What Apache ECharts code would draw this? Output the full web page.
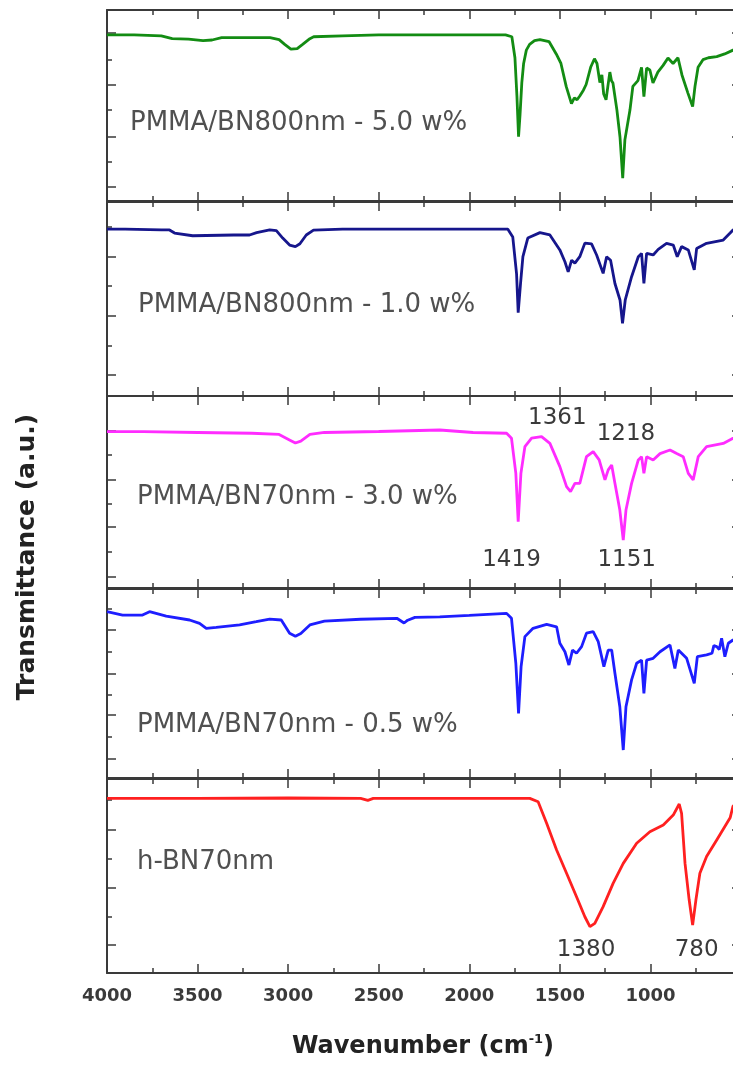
<!DOCTYPE html>
<html>
<head>
<meta charset="utf-8">
<script src="https://cdn.jsdelivr.net/npm/echarts@6/dist/echarts.min.js"></script>
<style>
html, body { margin: 0; padding: 0; background: #fff; overflow: hidden; }
#chartImg { width: 745px; height: 1066px; }
</style>
</head>
<body>
<div id="chartImg"></div>
<script>
// FTIR spectra, [wavenumber, offset transmittance in panel units 0..100]
var pmma800_50 = [[4000,87],[3850,87],[3700,86.5],[3640,85],[3550,84.8],[3470,84],[3420,84.3],[3367,85.5],[3100,85.5],[3050,84.5],[3019,82],[2985,79.5],[2950,79.8],[2920,82],[2880,85],[2859,86],[2700,86.5],[2500,87],[2300,87],[2000,87],[1800,87],[1765,86],[1748,75],[1737,55],[1728,33.7],[1720,45],[1710,62],[1700,72],[1685,79],[1667,82],[1640,84],[1610,84.5],[1560,83.5],[1520,77],[1494,72],[1465,60],[1436,51],[1420,54],[1405,53],[1390,55],[1370,58],[1355,61],[1330,70],[1309,74.5],[1295,72],[1279,62],[1268,66],[1258,56],[1245,53],[1235,60],[1224,67.5],[1215,63],[1207,61.8],[1185,47.6],[1168,33.5],[1153,12],[1141,32],[1113,47.6],[1097,60],[1069,63],[1049,70],[1036,54.6],[1021,69.6],[1003,68.6],[986,61.8],[959,67.5],[930,71],[903,74.9],[875,72],[848,75],[826,66],[793,56.5],[767,49.4],[754,60],[737,70],[710,74],[680,75],[634,75.6],[590,77],[544,79],[500,80]];
var pmma800_10 = [[4000,86],[3900,86],[3700,85.6],[3655,85.6],[3627,84],[3527,82.6],[3300,83],[3213,83],[3174,84.2],[3102,85.6],[3065,85.2],[3030,81.4],[2992,77.8],[2960,77],[2935,78.5],[2900,83],[2860,85.5],[2700,86],[2400,86],[2000,86],[1787,86],[1760,82],[1739,63],[1730,43],[1717,58],[1704,71.8],[1677,81.4],[1610,84.2],[1555,83],[1500,75.3],[1472,69.2],[1454,64],[1435,70],[1417,68.5],[1390,71.8],[1362,78.8],[1325,78.4],[1297,72.7],[1261,63.2],[1242,71.8],[1220,70],[1196,58],[1168,49.5],[1154,37.5],[1139,49.5],[1104,61.5],[1067,71.8],[1049,73.5],[1036,58],[1021,73.5],[985,72.7],[957,75.6],[911,78.7],[874,77.8],[852,71.8],[828,77],[791,75.3],[758,65],[745,76],[690,78.7],[598,80.4],[560,84],[544,85.6],[500,86]];
var pmma70_30 = [[4000,81.4],[3800,81.4],[3500,81],[3200,80.6],[3050,80],[2990,77],[2960,75.5],[2930,76.5],[2880,80],[2800,81],[2500,81.5],[2163,82.3],[1979,81],[1794,80.6],[1767,78],[1743,59.7],[1730,34.5],[1715,59.7],[1693,73.6],[1656,78],[1601,78.8],[1555,75.3],[1500,63.2],[1463,52.8],[1441,50.2],[1417,54.5],[1390,54.5],[1353,68.4],[1316,71],[1283,66.7],[1251,56.3],[1233,61.5],[1214,64],[1196,54.5],[1169,40.6],[1150,25],[1135,40.6],[1104,54.5],[1067,66.7],[1049,68.4],[1036,59.7],[1021,68.4],[985,66.7],[947,70],[892,71.9],[855,70],[819,68.4],[791,59.7],[764,56.3],[736,68.4],[690,73.6],[598,75.3],[544,78],[500,79]];
var pmma70_05 = [[4000,88],[3914,86.2],[3804,86.2],[3765,88],[3673,85.7],[3544,83.6],[3489,81.8],[3452,79.2],[3397,79.7],[3268,81],[3176,82.7],[3102,84.1],[3038,83.6],[2992,76.6],[2960,75],[2930,76.5],[2880,81],[2800,83],[2600,84],[2400,84.5],[2360,82],[2340,83.5],[2300,85],[2163,85.3],[2000,86],[1794,87.1],[1767,84.5],[1743,60.7],[1728,34.2],[1714,58.9],[1693,74.8],[1648,79.2],[1573,81.3],[1518,80],[1500,71.3],[1472,66.8],[1450,59.8],[1430,67.7],[1408,66],[1380,69.5],[1353,76.6],[1316,77.4],[1288,72.1],[1257,58.9],[1233,67.7],[1214,67.7],[1196,55.4],[1169,37.7],[1150,14.8],[1135,37.7],[1104,51.9],[1076,60.7],[1049,62.4],[1036,44.8],[1021,62.4],[985,63.3],[947,66.8],[892,70.4],[865,58],[846,67.7],[800,63.3],[758,50.1],[741,64.2],[690,65.1],[660,66],[650,70],[634,69.5],[620,68],[607,73.9],[589,64.2],[570,71.3],[544,73],[500,74]];
var hbn70 = [[4000,90],[3500,90],[3000,90.2],[2600,90],[2560,89],[2530,90],[2000,90],[1700,90],[1666,90],[1620,88.3],[1573,77.2],[1518,63.4],[1463,51.4],[1408,39.3],[1362,29],[1334,23.9],[1307,25.6],[1261,34.2],[1206,46.2],[1150,56.5],[1076,66.9],[1003,72.8],[929,76.3],[874,81.4],[841,87.1],[828,82.3],[809,56.5],[786,37.6],[767,24.7],[749,37.6],[727,51.4],[690,60],[634,68.6],[560,80],[544,86],[500,90]];

var spectra = [pmma800_50, pmma800_10, pmma70_30, pmma70_05, hbn70];
var names = ['PMMA/BN800nm - 5.0 w%', 'PMMA/BN800nm - 1.0 w%', 'PMMA/BN70nm - 3.0 w%', 'PMMA/BN70nm - 0.5 w%', 'h-BN70nm'];
var colors = ['#138c13', '#16168c', '#ff2cff', '#1e1eff', '#ff2020'];

// peak labels: [text, wavenumber, panel units]
var peaks3 = [['1361', 1514, 88.7], ['1218', 1135, 80], ['1419', 1767, 14.6], ['1151', 1131, 14.6]];
var peaks5 = [['1380', 1355, 11.9], ['780', 745, 11.9]];

// y tick positions per panel (panel units)
var yTicks = [
    [7.3, 20.4, 33.5, 47.6, 60.7, 73.8, 88],
    [11.2, 25.9, 41.2, 56.7, 71.8, 87],
    [5.9, 18.9, 31.9, 44, 56.6, 69.3, 81.9],
    [10.4, 21.9, 33.3, 44.3, 55.4, 66.8, 78.3, 89.4],
    [14.4, 29, 43.7, 59.1, 73.7, 89.2]
];

var xTickLabels = ['4000', '3500', '3000', '2500', '2000', '1500', '1000'];

var panelTop = [10, 202, 396, 589, 779];
var panelH = [191, 194, 192, 189, 194];
var labelPos = [[130, 123], [138, 305], [137, 497], [137, 725], [137, 862]];

var frameColor = '#3a3a3a';
var grids = [], xAxes = [], yAxes = [], series = [], graphics = [];

for (var i = 0; i < 5; i++) {
    grids.push({ left: 107, width: 634, top: panelTop[i], height: panelH[i] });
    var isLast = (i === 4);
    ['bottom', 'top'].forEach(function (pos) {
        xAxes.push({
            type: 'value', gridIndex: i, position: pos,
            min: 500, max: 4000, interval: 500, inverse: true,
            axisLine: { show: true, onZero: false, lineStyle: { color: frameColor, width: 2 } },
            axisTick: { show: true, inside: true, length: 9, lineStyle: { color: frameColor, width: 1.5 } },
            minorTick: { show: true, splitNumber: 2, length: 5, lineStyle: { color: frameColor, width: 1.5 } },
            splitLine: { show: false },
            axisLabel: {
                show: isLast && pos === 'bottom', margin: 14,
                fontFamily: 'DejaVu Sans', fontWeight: 'bold', fontSize: 18, color: '#3a3a3a',
                formatter: function (v) { return xTickLabels.indexOf(String(v)) >= 0 ? String(v) : ''; }
            }
        });
    });
    var majors = yTicks[i].filter(function (v, k) { return k % 2 === 0; });
    var minors = yTicks[i].filter(function (v, k) { return k % 2 === 1; });
    ['left', 'right'].forEach(function (pos) {
        [[majors, 9, true], [minors, 5, false]].forEach(function (t) {
            yAxes.push({
                type: 'value', gridIndex: i, position: pos, min: 0, max: 100,
                axisLine: { show: t[2], onZero: false, lineStyle: { color: frameColor, width: 2 } },
                axisTick: { show: true, inside: true, length: t[1], customValues: t[0],
                    lineStyle: { color: frameColor, width: 1.5 } },
                axisLabel: { show: false },
                splitLine: { show: false }
            });
        });
    });
    var s = {
        type: 'line', name: names[i], xAxisIndex: 2 * i, yAxisIndex: 4 * i,
        data: spectra[i], showSymbol: false, symbol: 'none',
        lineStyle: { color: colors[i], width: 2.8 }, itemStyle: { color: colors[i] },
        silent: true, animation: false
    };
    var pk = i === 2 ? peaks3 : (i === 4 ? peaks5 : null);
    if (pk) {
        s.markPoint = {
            symbol: 'circle', symbolSize: 0, silent: true, animation: false,
            label: { show: true, position: 'inside', formatter: '{b}',
                fontFamily: 'DejaVu Sans', fontSize: 23, color: '#3a3a3a' },
            data: pk.map(function (p) { return { name: p[0], coord: [p[1], p[2]] }; })
        };
    }
    series.push(s);
    graphics.push({
        type: 'text', x: labelPos[i][0], y: labelPos[i][1], silent: true,
        style: { text: names[i], font: '26px "DejaVu Sans"', fill: '#505050', align: 'left', verticalAlign: 'middle' }
    });
}

graphics.push({
    type: 'text', x: 27, y: 557, rotation: Math.PI / 2, silent: true,
    style: { text: 'Transmittance (a.u.)', font: 'bold 25px "DejaVu Sans"', fill: '#222', align: 'center', verticalAlign: 'middle' }
});
graphics.push({
    type: 'text', x: 423, y: 1047, silent: true,
    style: {
        text: '{a|Wavenumber (cm}{s|-1}{a|)}', align: 'center', verticalAlign: 'middle',
        rich: {
            a: { fontFamily: 'DejaVu Sans', fontWeight: 'bold', fontSize: 24, fill: '#222', color: '#222', lineHeight: 28 },
            s: { fontFamily: 'DejaVu Sans', fontWeight: 'bold', fontSize: 13, fill: '#222', color: '#222', verticalAlign: 'top', lineHeight: 28 }
        }
    }
});

var myChart = echarts.init(document.getElementById('chartImg'), null, { renderer: 'canvas' });
var option = {
    backgroundColor: '#fff',
    animation: false,
    grid: grids,
    xAxis: xAxes,
    yAxis: yAxes,
    series: series,
    graphic: graphics
};
myChart.setOption(option);
</script>
</body>
</html>
